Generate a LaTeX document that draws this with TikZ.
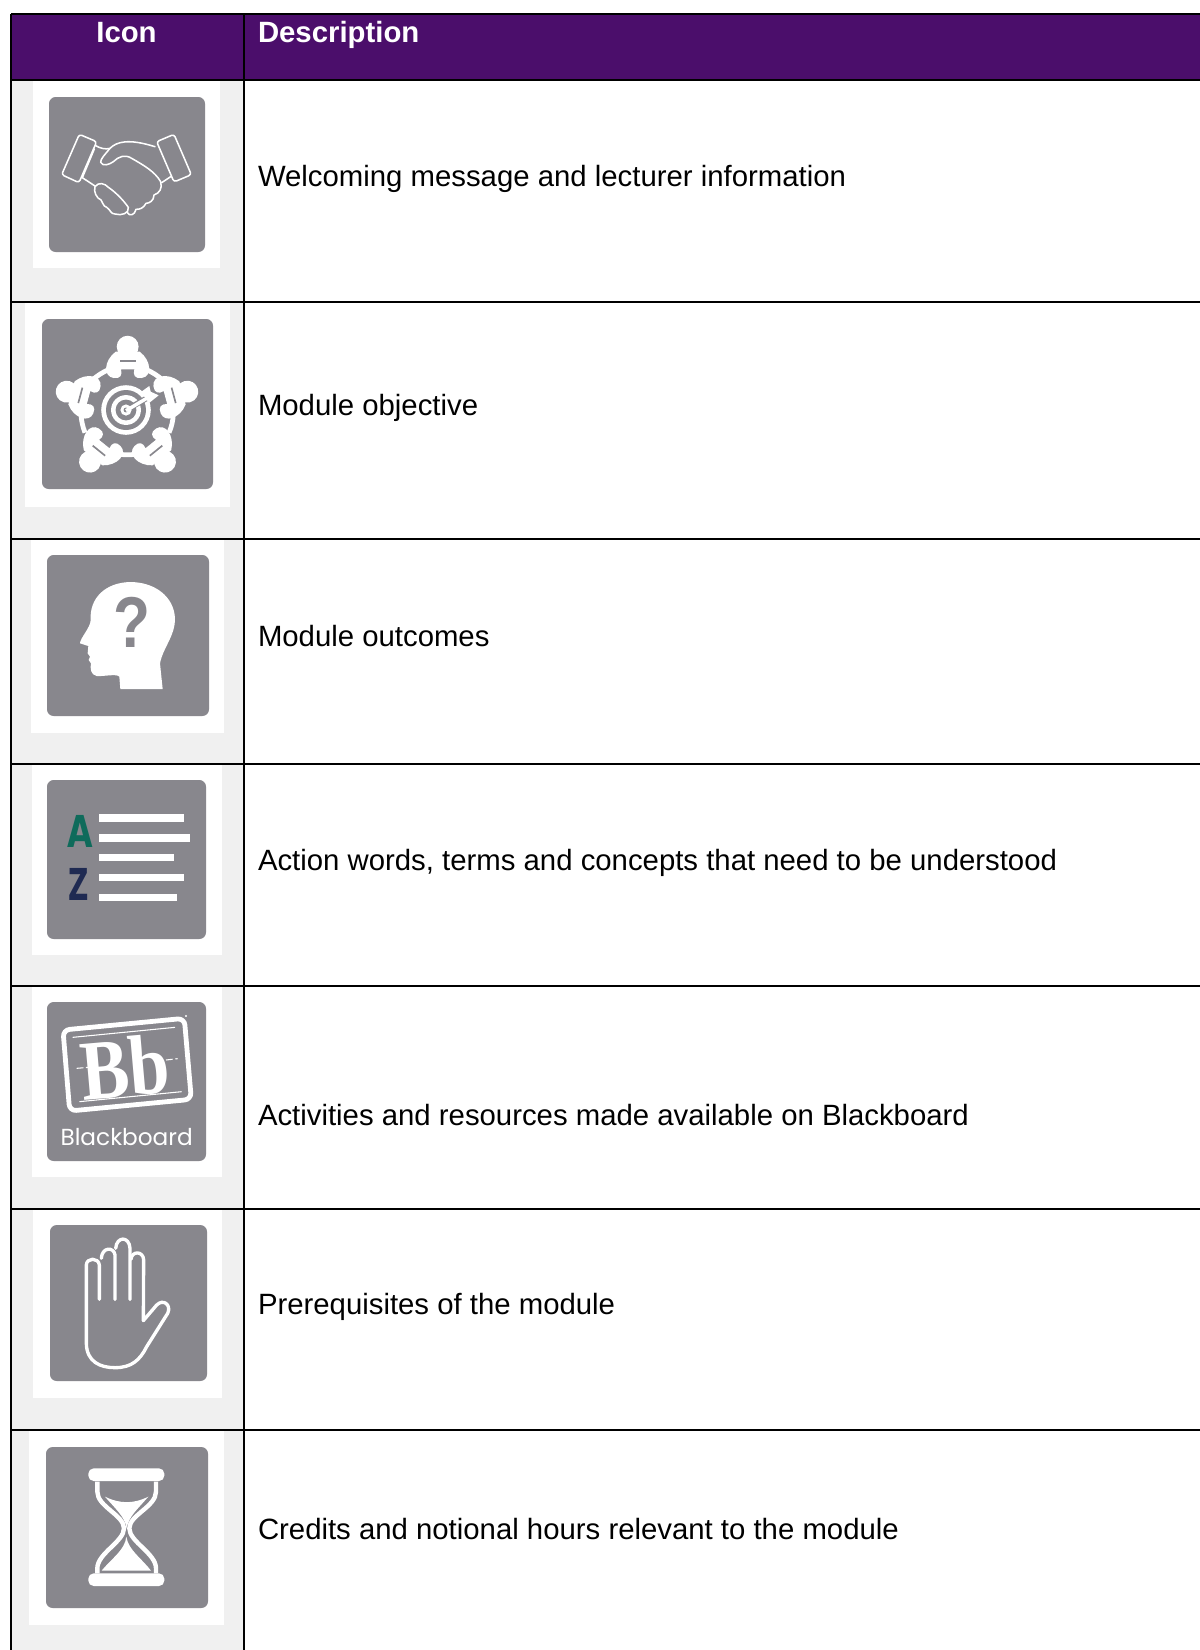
\documentclass[tikz,border=0pt]{standalone}
\usepackage{fontspec}
\usepackage{graphicx}
\setmainfont{Liberation Sans}
\newfontfamily\serifbb{Liberation Serif}
\newfontfamily\bbword{Poppins}
\newfontfamily\azfont{DejaVu Sans}
\definecolor{hdr}{HTML}{4B0E6B}
\definecolor{cellgrey}{HTML}{F0F0F0}
\definecolor{icongrey}{HTML}{88878D}
\definecolor{azgreen}{HTML}{0F6B5B}
\definecolor{aznavy}{HTML}{1F2A52}
\tikzset{
  rule/.style={black,line width=1.25pt},
  whitebox/.style={fill=white,draw=none},
  greybox/.style={fill=icongrey,draw=none,rounded corners=5pt},
  body/.style={anchor=base west,inner sep=0pt,outer sep=0pt,font=\fontsize{22}{26}\selectfont,text=black},
  head/.style={inner sep=0pt,outer sep=0pt,font=\fontsize{22}{26}\selectfont\bfseries,text=white},
  thinline/.style={draw=white,line width=1.15pt,line join=round,line cap=round},
  handline/.style={draw=white,line width=2.5pt,line join=round,line cap=round},
  crop/.style={x=.25pt,y=-.25pt},
}
\begin{document}
\begin{tikzpicture}[x=.75pt,y=-.75pt]
\useasboundingbox (0,0) rectangle (1200,1650);
\fill[white] (0,0) rectangle (1200,1650);
% table backgrounds
\fill[hdr] (11,14) rectangle (1200,80);
\fill[cellgrey] (11,80) rectangle (244,1650);
% white tiles
\fill[whitebox] (33,80) rectangle (220,268);
\fill[whitebox] (25,302) rectangle (230,507);
\fill[whitebox] (31,539) rectangle (224,733);
\fill[whitebox] (32,764) rectangle (222,955);
\fill[whitebox] (32,986) rectangle (222,1177);
\fill[whitebox] (33,1209) rectangle (222,1398);
\fill[whitebox] (29,1430) rectangle (224,1625);
% grey icon squares
\fill[greybox] (49,97) rectangle (205,252);
\fill[greybox] (42,319) rectangle (213,489);
\fill[greybox] (47,555) rectangle (209,716);
\fill[greybox] (47,780) rectangle (206,939);
\fill[greybox] (47,1002) rectangle (206,1161);
\fill[greybox] (50,1225) rectangle (207,1381);
\fill[greybox] (46,1447) rectangle (208,1608);
% rules
\draw[rule,line width=1.6pt] (11,14) -- (1200,14);
\foreach \yy in {80,302,539,764,986,1209,1430} \draw[rule] (11,\yy) -- (1200,\yy);
\draw[rule] (11,14) -- (11,1650);
\draw[rule] (244,14) -- (244,1650);
% header text
\node[head,anchor=base] (hicon) at (126.5,42) {Icon};
\node[head,anchor=base west] (hdesc) at (258,42) {Description};
% body text
\node[body] (t1) at (258,186) {Welcoming message and lecturer information};
\node[body] (t2) at (258,415) {Module objective};
\node[body] (t3) at (258,646) {Module outcomes};
\node[body] (t4) at (258,870) {Action words, terms and concepts that need to be understood};
\node[body] (t5) at (258,1125) {Activities and resources made available on Blackboard};
\node[body] (t6) at (258,1314) {Prerequisites of the module};
\node[body] (t7) at (258,1539) {Credits and notional hours relevant to the module};
% handshake
\begin{scope}[crop]
\draw[thinline,rounded corners=2pt] (238,403) -- (290,425) -- (237,548) -- (185,524) -- cycle;
\draw[thinline,rounded corners=2pt] (470,425) -- (522,403) -- (574,524) -- (522,546) -- cycle;
\draw[thinline] (287,437) .. controls (300,445) and (318,449) .. (330,445)
  .. controls (350,425) and (385,415) .. (465,440);
\draw[thinline] (330,445) .. controls (318,460) and (300,478) .. (302,487)
  .. controls (308,500) and (328,494) .. (340,485)
  .. controls (355,470) and (375,462) .. (395,475)
  .. controls (430,495) and (465,515) .. (482,545)
  .. controls (488,565) and (478,580) .. (462,585)
  .. controls (462,602) and (448,610) .. (438,610)
  .. controls (430,625) and (420,628) .. (408,628)
  .. controls (405,645) and (388,650) .. (382,638);
\draw[thinline] (283,447) -- (247,533) -- (285,558);
\draw[thinline] (485,548) -- (512,530);
\draw[thinline] (285,560) .. controls (295,545) and (315,550) .. (325,562)
  .. controls (345,575) and (370,600) .. (385,622)
  .. controls (388,640) and (365,648) .. (345,642)
  .. controls (332,642) and (332,630) .. (320,622)
  .. controls (308,618) and (310,608) .. (303,600)
  .. controls (290,595) and (280,575) .. (285,560) -- cycle;
\end{scope}
% target with people
\begin{scope}[shift={(0,290)},crop]
\draw[white,line width=3.6pt] (330,237) .. controls (310,245) and (290,258) .. (275,272);
\draw[white,line width=3.6pt] (435,237) .. controls (455,245) and (475,258) .. (490,272);
\draw[white,line width=3.6pt] (243,372) .. controls (244,392) and (248,410) .. (255,428);
\draw[white,line width=3.6pt] (520,372) .. controls (519,392) and (515,410) .. (507,428);
\draw[white,line width=3.6pt] (345,490) .. controls (370,496) and (395,496) .. (420,490);
% people bodies
\foreach \nm/\ang/\cx/\cy in {top/0/383/170,left/75/200/305,right/-75/562/305,bl/141/270/515,br/-141/495/515}{
  \begin{scope}[shift={(\cx,\cy)},rotate=\ang]
    \fill[white] (-36,15) .. controls (-72,42) and (-74,90) .. (-42,94) .. controls (-22,97) and (-15,85) .. (-20,68) -- (20,68) .. controls (15,85) and (22,97) .. (42,94) .. controls (74,90) and (72,42) .. (36,15) -- cycle;
    \fill[icongrey] (-24,40) -- (24,40) -- (24,45) -- (-24,45) -- cycle;
    \fill[white] (0,0) circle[radius=8.2pt];
  \end{scope}
}
% target
\fill[white] (378,360) circle[radius=18.6pt];
\fill[icongrey] (378,360) circle[radius=15pt];
\fill[white] (378,360) circle[radius=11.2pt];
\fill[icongrey] (378,360) circle[radius=7.8pt];
\fill[white] (378,360) circle[radius=4.2pt];
\fill[icongrey] (378,360) circle[radius=1.8pt];
\draw[icongrey,line width=4.2pt] (392,352) -- (445,322);
\draw[white,line width=2.6pt] (378,362) -- (445,322);
\fill[white] (420,308) -- (448,288) -- (452,305) -- (476,316) -- (446,340) -- (438,325) -- cycle;
\end{scope}
% head with question mark
\begin{scope}[shift={(0,290)},crop]
\fill[white] (488,1197) -- (480,1120) .. controls (490,1070) and (525,1040) .. (525,985)
  .. controls (522,920) and (465,876) .. (390,876)
  .. controls (315,878) and (268,925) .. (272,990)
  .. controls (272,1012) and (240,1045) .. (240,1060)
  -- (265,1068) -- (263,1090) -- (270,1100) -- (266,1110) -- (273,1120)
  .. controls (270,1135) and (272,1155) .. (290,1158)
  .. controls (310,1160) and (350,1150) .. (358,1160) -- (361,1197) -- cycle;
\node[inner sep=0pt,text=icongrey,anchor=base] (qm) at (396,1072) {\scalebox{.84}[1]{\fontsize{54}{54}\selectfont\bfseries ?}};
\end{scope}
% A-Z list
\begin{scope}[shift={(0,750)},crop]
\node[inner sep=0pt,anchor=base,text=azgreen] (aa) at (241,292) {\scalebox{.75}[1]{\fontsize{33}{33}\selectfont\azfont\bfseries A}};
\node[inner sep=0pt,anchor=base,text=aznavy] (zz) at (235,451) {\scalebox{.64}[1]{\fontsize{33}{33}\selectfont\azfont\bfseries Z}};
\fill[white] (297,193) rectangle (552,216);
\fill[white] (297,253) rectangle (569,276);
\fill[white] (297,312) rectangle (522,334);
\fill[white] (297,372) rectangle (552,393);
\fill[white] (297,431) rectangle (530,454);
\end{scope}
% Blackboard
\begin{scope}[shift={(0,750)},crop]
\draw[white,line width=3.6pt,rounded corners=5pt] (189,840) -- (553,805) -- (574,1048) -- (209,1083) -- cycle;
\fill[white] (558,798) circle[radius=.9pt];
\draw[white,line width=.8pt] (218,862) -- (525,832);
\draw[white,line width=.8pt] (238,1055) -- (545,1025);
\node[inner sep=0pt,text=white,rotate=5,text depth=0pt] (bb) at (375,950) {\scalebox{.85}[1]{\fontsize{64}{64}\selectfont\serifbb\bfseries Bb}};
\draw[white,line width=.8pt,dash pattern=on 5pt off 2pt] (230,955) -- (265,952);
\draw[white,line width=.8pt,dash pattern=on 5pt off 2pt] (498,930) -- (533,926);
\node[inner sep=0pt,text=white,anchor=base,font=\fontsize{17.4}{18}\selectfont\bbword] (bw) at (380,1185) {Blackboard};
\end{scope}
% hand
\begin{scope}[shift={(0,1200)},crop]
\draw[handline] (298,298) -- (298,195) .. controls (296,172) and (260,172) .. (259,195)
  -- (259,430) .. controls (260,485) and (300,503) .. (345,503)
  .. controls (395,503) and (420,480) .. (440,440)
  -- (503,340) .. controls (515,315) and (490,295) .. (470,315)
  -- (430,362) -- (431,180) .. controls (430,152) and (395,152) .. (393,178);
\draw[handline] (304,175) .. controls (306,140) and (342,140) .. (345,165) -- (345,298);
\draw[handline] (347,145) .. controls (350,108) and (388,108) .. (390,145) -- (390,298);
\end{scope}
% hourglass
\begin{scope}[shift={(0,1200)},crop]
\fill[white,rounded corners=4pt] (265,805) rectangle (493,843);
\fill[white,rounded corners=4pt] (265,1120) rectangle (493,1158);
\draw[white,line width=3.3pt] (292,845) -- (292,875) .. controls (292,920) and (372,945) .. (372,985)
  .. controls (372,1025) and (292,1060) .. (292,1105) -- (292,1120);
\draw[white,line width=3.3pt] (468,845) -- (468,875) .. controls (468,920) and (388,945) .. (388,985)
  .. controls (388,1025) and (468,1060) .. (468,1105) -- (468,1120);
\fill[white] (315,890) .. controls (360,912) and (400,912) .. (445,890)
  .. controls (415,925) and (385,950) .. (380,985)
  .. controls (375,950) and (345,925) .. (315,890) -- cycle;
\fill[white] (305,1112) .. controls (335,1075) and (375,1050) .. (379,1010)
  .. controls (385,1050) and (425,1075) .. (453,1112) -- cycle;
\end{scope}
\end{tikzpicture}
\end{document}
